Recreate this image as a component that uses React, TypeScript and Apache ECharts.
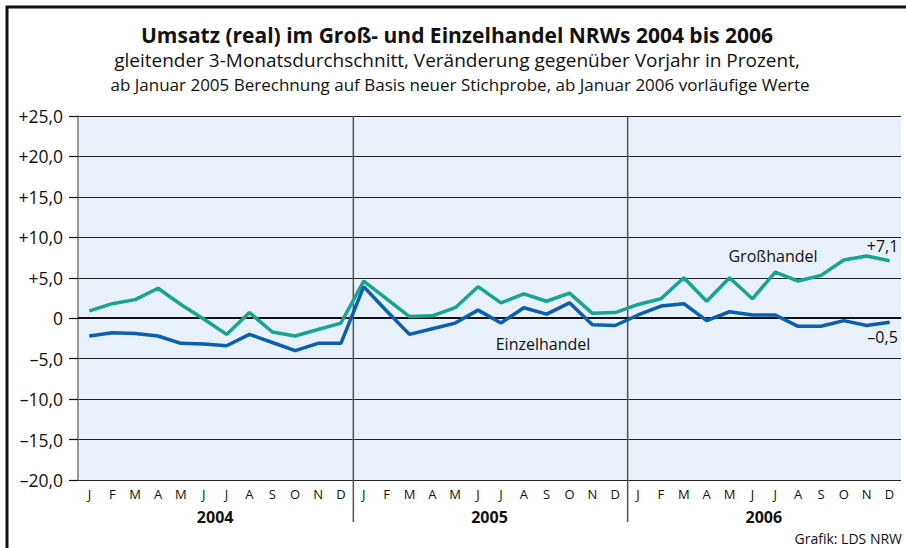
import React, { useEffect, useRef } from "react";
import * as echarts from "echarts";

const monthLetters = ["J", "F", "M", "A", "M", "J", "J", "A", "S", "O", "N", "D"];
const months = [...monthLetters, ...monthLetters, ...monthLetters];
const years = ["2004", "2005", "2006"];

const gross2004 = [0.9, 1.8, 2.3, 3.7, 1.7, -0.1, -2.0, 0.7, -1.7, -2.2, -1.4, -0.6];
const gross2005 = [4.6, 2.4, 0.2, 0.3, 1.3, 3.9, 1.9, 3.0, 2.1, 3.1, 0.6, 0.7];
const gross2006 = [1.7, 2.4, 5.0, 2.1, 5.0, 2.4, 5.7, 4.6, 5.3, 7.2, 7.7, 7.1];

const einzel2004 = [-2.2, -1.8, -1.9, -2.2, -3.1, -3.2, -3.4, -2.0, -3.0, -4.0, -3.1, -3.1];
const einzel2005 = [3.9, 0.9, -2.0, -1.3, -0.6, 1.0, -0.6, 1.3, 0.5, 1.9, -0.8, -0.9];
const einzel2006 = [0.4, 1.5, 1.8, -0.3, 0.8, 0.4, 0.4, -1.0, -1.0, -0.3, -0.9, -0.5];

const grossValues = [...gross2004, ...gross2005, ...gross2006];
const einzelValues = [...einzel2004, ...einzel2005, ...einzel2006];

const FONT = "'Open Sans', 'Noto Sans', sans-serif";
const TEAL = "#17a58f";
const BLUE = "#0a5fb0";

function fmtY(v: number): string {
  if (v === 0) return "0";
  const s = Math.abs(v).toFixed(1).replace(".", ",");
  return (v > 0 ? "+" : "\u2013") + s;
}

function fmtEnd(v: number): string {
  const s = Math.abs(v).toFixed(1).replace(".", ",");
  return (v > 0 ? "+" : "\u2013") + s;
}

export default function App() {
  const ref = useRef<HTMLDivElement>(null);
  useEffect(() => {
    const chart = echarts.init(ref.current!, null, { renderer: "svg" });
    const last = grossValues.length - 1;
    const endLabel = (v: number, pos: string, dist: number) => ({
      value: v,
      label: {
        show: true,
        position: pos,
        distance: dist,
        offset: [-7, 0],
        formatter: fmtEnd(v),
        fontFamily: FONT,
        fontSize: 16,
        color: "#111",
        opacity: 1,
      },
    });
    const grossData = grossValues.map((v, i) => (i === last ? endLabel(v, "top", 6) : v));
    const einzelData = einzelValues.map((v, i) => (i === last ? endLabel(v, "bottom", 6) : v));
    chart.setOption({
      animation: false,
      backgroundColor: "#ffffff",
      grid: {
        left: 78,
        right: 5,
        top: 116,
        bottom: 68,
        show: true,
        backgroundColor: "#e8f0fa",
        borderWidth: 0,
      },
      xAxis: [
        {
          type: "category",
          data: months,
          boundaryGap: true,
          position: "bottom",
          axisLine: { show: true, lineStyle: { color: "#333", width: 1 } },
          axisTick: { show: false },
          axisLabel: { interval: 0, margin: 7, fontFamily: FONT, fontSize: 13, color: "#111" },
          splitLine: { show: false },
        },
        {
          type: "category",
          data: years,
          boundaryGap: true,
          position: "bottom",
          axisLine: { show: false },
          axisTick: { show: false },
          axisLabel: { interval: 0, margin: 29, fontFamily: FONT, fontSize: 16, fontWeight: "bold", color: "#111" },
          splitLine: { show: false },
        },
      ],
      yAxis: {
        type: "value",
        min: -20,
        max: 25,
        interval: 5,
        axisLine: { show: true, lineStyle: { color: "#777", width: 1.5 } },
        axisTick: { show: true, length: 9, lineStyle: { color: "#111", width: 1.2 } },
        axisLabel: { margin: 15, fontFamily: FONT, fontSize: 17.5, color: "#111", formatter: fmtY },
        splitLine: { show: true, lineStyle: { color: "#222", width: 1 } },
      },
      series: [
        {
          name: "Großhandel",
          type: "line",
          data: grossData,
          symbol: "circle",
          symbolSize: 1,
          showSymbol: true,
          lineStyle: { color: TEAL, width: 3.5 },
          itemStyle: { color: TEAL },
          z: 3,
          markLine: {
            silent: true,
            symbol: "none",
            label: { show: false },
            lineStyle: { color: "#111", width: 2, type: "solid" },
            data: [{ yAxis: 0 }],
            z: 2,
          },
        },
        {
          name: "Einzelhandel",
          type: "line",
          data: einzelData,
          symbol: "circle",
          symbolSize: 1,
          showSymbol: true,
          lineStyle: { color: BLUE, width: 3.5 },
          itemStyle: { color: BLUE },
          z: 4,
        },
      ],
    });

    const px = (i: number) => chart.convertToPixel({ xAxisIndex: 0 }, i) as number;
    const sepXs = [12, 24].map((i) => (px(i - 1) + px(i)) / 2 + 1);
    const graphics: any[] = [
      {
        type: "polyline",
        shape: { points: [[7, 548], [7, 7], [906, 7]] },
        style: { stroke: "#111", lineWidth: 3, fill: null },
        z: 10,
      },
      ...sepXs.map((x) => ({
        type: "line",
        shape: { x1: x, y1: 116, x2: x, y2: 522 },
        style: { stroke: "#555", lineWidth: 1.5 },
        z: 1,
      })),
      {
        type: "text",
        x: 457,
        y: 35,
        style: { text: "Umsatz (real) im Groß- und Einzelhandel NRWs 2004 bis 2006", fontFamily: FONT, fontSize: 21, lineHeight: 21, fontWeight: "bold", fill: "#111", align: "center", verticalAlign: "middle" },
      },
      {
        type: "text",
        x: 457,
        y: 60,
        style: { text: "gleitender 3-Monatsdurchschnitt, Veränderung gegenüber Vorjahr in Prozent,", fontFamily: FONT, fontSize: 19, lineHeight: 19, fill: "#111", align: "center", verticalAlign: "middle" },
      },
      {
        type: "text",
        x: 460,
        y: 84,
        style: { text: "ab Januar 2005 Berechnung auf Basis neuer Stichprobe, ab Januar 2006 vorläufige Werte", fontFamily: FONT, fontSize: 17, lineHeight: 17, fill: "#111", align: "center", verticalAlign: "middle" },
      },
      {
        type: "text",
        x: 773,
        y: 256,
        style: { text: "Großhandel", fontFamily: FONT, fontSize: 16, fill: "#111", align: "center", verticalAlign: "middle" },
        z: 5,
      },
      {
        type: "text",
        x: 543,
        y: 344,
        style: { text: "Einzelhandel", fontFamily: FONT, fontSize: 16, fill: "#111", align: "center", verticalAlign: "middle" },
        z: 5,
      },
      {
        type: "text",
        x: 902,
        y: 538,
        style: { text: "Grafik: LDS NRW", fontFamily: FONT, fontSize: 14, fill: "#111", align: "right", verticalAlign: "middle" },
      },
    ];
    chart.setOption({ graphic: graphics });
    return () => chart.dispose();
  }, []);
  return (
    <div
      ref={ref}
      style={{ position: "absolute", left: 0, top: 0, width: 906, height: 548, background: "#fff" }}
    />
  );
}
